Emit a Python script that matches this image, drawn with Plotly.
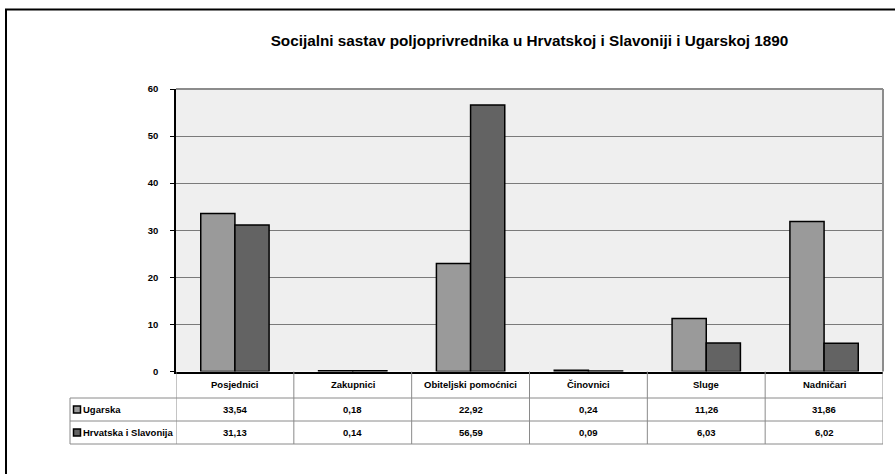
import plotly.graph_objects as go

W, H = 895, 474

categories = ["Posjednici", "Zakupnici", "Obiteljski pomoćnici", "Činovnici", "Sluge", "Nadničari"]
series_names = ["Ugarska", "Hrvatska i Slavonija"]
ugarska = [33.54, 0.18, 22.92, 0.24, 11.26, 31.86]
hrvatska = [31.13, 0.14, 56.59, 0.09, 6.03, 6.02]
series_values = [ugarska, hrvatska]
series_colors = ["#9a9a9a", "#636363"]
title_text = "Socijalni sastav poljoprivrednika u Hrvatskoj i Slavoniji i Ugarskoj 1890"
y_ticks = [0, 10, 20, 30, 40, 50, 60]


def px(x):
    return x / W


def py(y):
    return 1 - y / H


FONT = "Liberation Sans, Arial, sans-serif"

# plot area in pixels
PL, PR, PT, PB = 176, 883, 89, 371.5
# table rows (pixels)
ROW_Y = [PB, 398, 421, 444]
TABLE_LEFT = 70

fig = go.Figure()
for name, vals, col in zip(series_names, series_values, series_colors):
    fig.add_trace(go.Bar(
        x=list(range(len(categories))), y=vals, name=name,
        marker=dict(color=col, line=dict(color="black", width=1.5)),
        showlegend=False,
    ))

shapes = []
annotations = []

# outer chart border
shapes.append(dict(type="rect", xref="paper", yref="paper",
                   x0=px(6), x1=px(W + 20), y0=py(H + 20), y1=py(9.5),
                   line=dict(color="black", width=2), fillcolor="rgba(0,0,0,0)", layer="below"))
# plot area top/right frame (grey)
shapes.append(dict(type="line", xref="paper", yref="paper", x0=px(PL), x1=px(PR), y0=py(PT), y1=py(PT),
                   line=dict(color="#8c8c8c", width=2)))
shapes.append(dict(type="line", xref="paper", yref="paper", x0=px(PR), x1=px(PR), y0=py(PT), y1=py(PB),
                   line=dict(color="#8c8c8c", width=2)))

grid_col = "#8a8a8a"
# table horizontal lines
for yy in ROW_Y[1:]:
    shapes.append(dict(type="line", xref="paper", yref="paper", x0=px(TABLE_LEFT), x1=px(PR),
                       y0=py(yy), y1=py(yy), line=dict(color=grid_col, width=1)))
# table vertical lines at category boundaries
n = len(categories)
for i in range(n + 1):
    shapes.append(dict(type="line", xref="x", yref="paper", x0=i - 0.5, x1=i - 0.5,
                       y0=py(PB), y1=py(ROW_Y[-1]), line=dict(color=grid_col, width=1)))
shapes.append(dict(type="line", xref="paper", yref="paper", x0=px(TABLE_LEFT), x1=px(TABLE_LEFT),
                   y0=py(ROW_Y[1]), y1=py(ROW_Y[-1]), line=dict(color=grid_col, width=1)))

cell_font = dict(family=FONT, size=9.5, color="black", weight="bold")
# header row: category names
for i, c in enumerate(categories):
    annotations.append(dict(x=i, xref="x", y=py((ROW_Y[0] + ROW_Y[1]) / 2), yref="paper",
                            text=c, showarrow=False, font=cell_font, xanchor="center", yanchor="middle"))
# data rows with legend keys
for r, (name, vals, col) in enumerate(zip(series_names, series_values, series_colors)):
    yc = (ROW_Y[r + 1] + ROW_Y[r + 2]) / 2
    for i, v in enumerate(vals):
        annotations.append(dict(x=i, xref="x", y=py(yc), yref="paper",
                                text=f"{v:.2f}".replace(".", ","), showarrow=False, font=cell_font,
                                xanchor="center", yanchor="middle"))
    annotations.append(dict(x=px(81), xref="paper", y=py(yc), yref="paper", text=name, showarrow=False,
                            font=cell_font, xanchor="left", yanchor="middle"))
    shapes.append(dict(type="rect", xref="paper", yref="paper", x0=px(73.5), x1=px(80.5),
                       y0=py(yc + 3.5), y1=py(yc - 3.5), fillcolor=col,
                       line=dict(color="black", width=1.5)))

fig.update_layout(
    width=W, height=H, autosize=False,
    margin=dict(l=0, r=0, t=0, b=0, pad=0),
    paper_bgcolor="white",
    plot_bgcolor="#efefef",
    bargap=0.42, bargroupgap=0,
    barmode="group",
    title=dict(text=title_text, x=px((PL + PR) / 2), xanchor="center", y=py(41), yanchor="middle",
               font=dict(family=FONT, size=15.3, color="black", weight="bold")),
    xaxis=dict(domain=[px(PL), px(PR)], range=[-0.5, n - 0.5], showticklabels=False, ticks="",
               showgrid=False, zeroline=False, showline=True, linecolor="black", linewidth=1.5,
               fixedrange=True, automargin=False),
    yaxis=dict(domain=[py(PB), py(PT)], range=[0, 60], tickvals=y_ticks, ticks="outside", ticklen=4,
               tickcolor="black", tickwidth=1, showline=True, linecolor="black", linewidth=1.5,
               showgrid=True, gridcolor="#7a7a7a", gridwidth=1, zeroline=False,
               ticklabelstandoff=10, automargin=False,
               tickfont=dict(family=FONT, size=9.5, color="black", weight="bold")),
    shapes=shapes,
    annotations=annotations,
)

fig.write_html("out.html", config={"displayModeBar": False, "responsive": False},
               post_script="document.body.style.margin='0px';document.body.style.overflow='hidden';")
